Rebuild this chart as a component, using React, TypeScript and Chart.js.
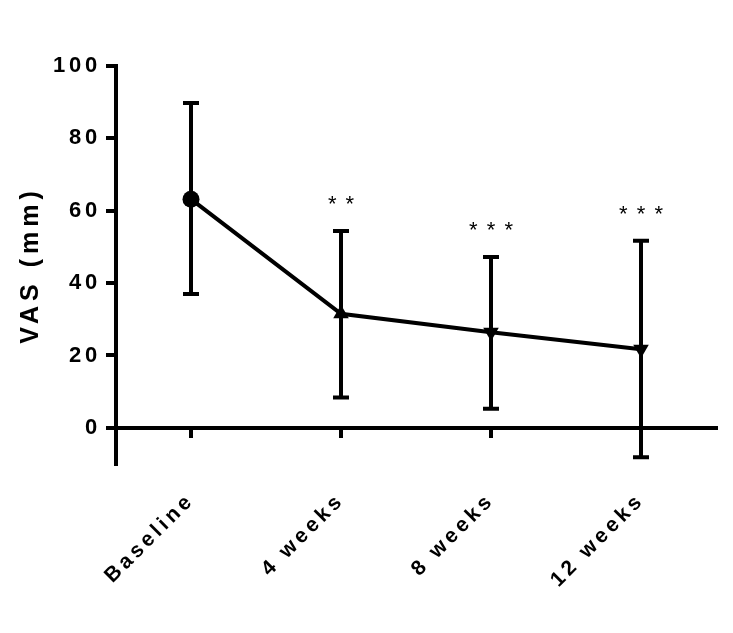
import React, { useEffect, useRef } from 'react';
import { Chart, registerables } from 'chart.js';

Chart.register(...registerables);

const categories = ['Baseline', '4 weeks', '8 weeks', '12 weeks'];
const meanVAS = [63.2, 31.5, 26.4, 21.7];
const upperVAS = [89.8, 54.4, 47.2, 51.7];
const lowerVAS = [37.0, 8.4, 5.3, -8.1];
const significance = ['', '* *', '* * *', '* * *'];
const yTickValues = [0, 20, 40, 60, 80, 100];

const FONT = "'Liberation Sans', Arial, Helvetica, sans-serif";

const errorBarPlugin = {
  id: 'errorBars',
  beforeDraw(chart: any) {
    chart.ctx.letterSpacing = '5px';
  },
  beforeDatasetsDraw(chart: any) {
    const { ctx, scales } = chart;
    const x = scales.x;
    const y = scales.y;
    ctx.save();
    ctx.letterSpacing = '0px';
    ctx.strokeStyle = '#000';
    ctx.fillStyle = '#000';
    ctx.lineWidth = 4;
    ctx.lineCap = 'butt';
    categories.forEach((_, i) => {
      const px = x.getPixelForValue(i);
      const yu = y.getPixelForValue(upperVAS[i]);
      const yl = y.getPixelForValue(lowerVAS[i]);
      ctx.beginPath();
      ctx.moveTo(px, yu);
      ctx.lineTo(px, yl);
      ctx.moveTo(px - 8, yu);
      ctx.lineTo(px + 8, yu);
      ctx.moveTo(px - 8, yl);
      ctx.lineTo(px + 8, yl);
      ctx.stroke();
      if (significance[i]) {
        ctx.font = `22px ${FONT}`;
        ctx.letterSpacing = '1.5px';
        ctx.textAlign = 'center';
        ctx.textBaseline = 'alphabetic';
        ctx.fillText(significance[i], px + 0.75, yu - 20);
        ctx.letterSpacing = '0px';
      }
    });
    ctx.restore();
  },
  afterDatasetsDraw(chart: any) {
    chart.ctx.letterSpacing = '3.8px';
  },
};

export default function App() {
  const canvasRef = useRef<HTMLCanvasElement | null>(null);

  useEffect(() => {
    const canvas = canvasRef.current;
    if (!canvas) return;
    const chart = new Chart(canvas, {
      type: 'line',
      data: {
        labels: categories,
        datasets: [
          {
            data: meanVAS,
            borderColor: '#000',
            backgroundColor: '#000',
            borderWidth: 4,
            pointBackgroundColor: '#000',
            pointBorderColor: '#000',
            pointBorderWidth: 0,
            pointStyle: ['circle', 'triangle', 'triangle', 'triangle'],
            pointRotation: [0, 0, 180, 180],
            pointRadius: [8.5, 9, 9, 9],
            tension: 0,
            fill: false,
            clip: false,
          } as any,
        ],
      },
      options: {
        animation: false,
        responsive: true,
        maintainAspectRatio: false,
        events: [],
        layout: { padding: { top: 66, right: 17, bottom: 0, left: 0 } },
        plugins: {
          legend: { display: false },
          tooltip: { enabled: false },
        },
        scales: {
          x: {
            type: 'category',
            position: 'bottom',
            offset: true,
            grid: { display: false, drawTicks: false },
            border: { display: false },
            ticks: {
              z: 1,
              autoSkip: false,
              minRotation: 45,
              maxRotation: 45,
              padding: 24,
              color: '#000',
              font: { family: FONT, size: 21, weight: 'bold' },
            },
            afterFit: (s: any) => {
              s.height = 169;
            },
          },
          x0: {
            type: 'category',
            position: { y: 0 },
            offset: true,
            grid: {
              drawOnChartArea: false,
              drawTicks: true,
              tickLength: 8,
              lineWidth: 4,
              color: '#000',
              offset: false,
            },
            border: { display: true, width: 4, color: '#000' },
            ticks: { display: false },
            afterFit: (s: any) => {
              s.height = 0;
            },
          },
          y: {
            type: 'linear',
            position: 'left',
            min: -10,
            max: 100,
            afterBuildTicks: (s: any) => {
              s.ticks = yTickValues.map((v) => ({ value: v }));
            },
            grid: { drawOnChartArea: false, tickLength: 10, lineWidth: 4, color: '#000' },
            border: { display: true, width: 4, color: '#000' },
            ticks: {
              z: 1,
              padding: 5,
              color: '#000',
              font: { family: FONT, size: 22, weight: 'bold' },
            },
            title: {
              display: true,
              text: 'VAS (mm)',
              color: '#000',
              font: { family: FONT, size: 25, weight: 'bold' },
              padding: { top: 16, bottom: 0 },
            },
            afterFit: (s: any) => {
              s.width = 116;
            },
          },
        } as any,
      },
      plugins: [errorBarPlugin],
    });
    return () => chart.destroy();
  }, []);

  return (
    <div style={{ position: 'absolute', left: 0, top: 0, width: 733, height: 633 }}>
      <canvas ref={canvasRef} />
    </div>
  );
}
